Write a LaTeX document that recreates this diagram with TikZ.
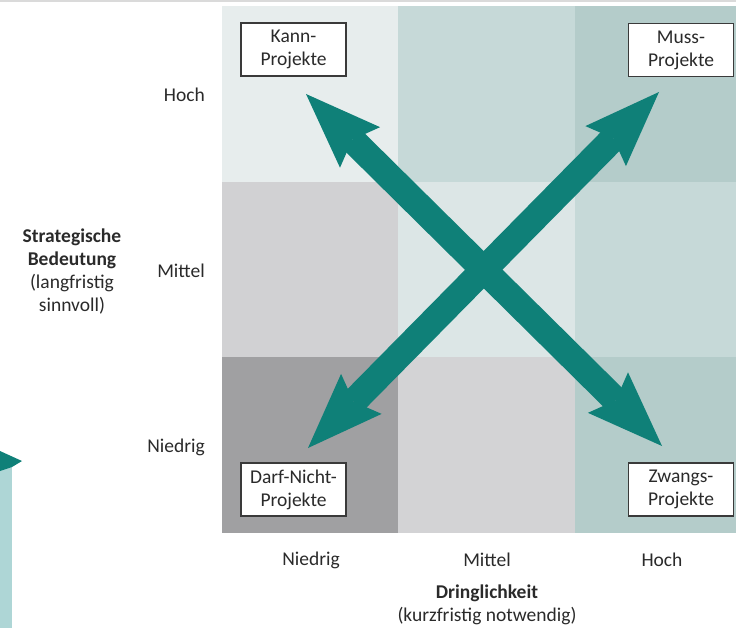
\documentclass[tikz,border=0pt]{standalone}
\usepackage{fontspec}
\setmainfont{Carlito}
\usetikzlibrary{arrows.meta}
\definecolor{cTL}{HTML}{E7EDED}
\definecolor{cTM}{HTML}{C6D9D8}
\definecolor{cTR}{HTML}{B4CCCA}
\definecolor{cML}{HTML}{D1D1D3}
\definecolor{cMM}{HTML}{DCE6E6}
\definecolor{cMR}{HTML}{C6D9D8}
\definecolor{cBL}{HTML}{A0A0A2}
\definecolor{cBM}{HTML}{D3D3D5}
\definecolor{cBR}{HTML}{B4CCCA}
\definecolor{teal}{HTML}{0F8078}
\definecolor{lightteal}{HTML}{AED6D6}
\definecolor{rule}{HTML}{DADADA}
\definecolor{boxline}{HTML}{3A3A3A}
\definecolor{txt}{HTML}{2A2A2A}
\begin{document}
\begin{tikzpicture}[x=1pt,y=-1pt,
  every node/.style={text=txt,font=\fontsize{19.5}{23}\selectfont},
  projbox/.style={draw=boxline,line width=1.3pt,fill=white,minimum width=105pt,
    minimum height=53pt,align=center,inner sep=0pt},
  axislabel/.style={align=center,inner sep=0pt},
  bigarrow/.style={draw=teal,line width=26.5pt,
    {Stealth[length=76pt,width=57pt,inset=11pt,line width=0pt,fill=teal]}-{Stealth[length=76pt,width=57pt,inset=11pt,line width=0pt,fill=teal]}}]
\useasboundingbox (0,0) rectangle (736,628);
% thin rule along the top edge
\fill[rule] (0,0) rectangle (736,2.5);
% matrix cells
\fill[cTL] (222,6) rectangle (398,182);
\fill[cTM] (398,6) rectangle (575,182);
\fill[cTR] (575,6) rectangle (751,182);
\fill[cML] (222,182) rectangle (398,357);
\fill[cMM] (398,182) rectangle (575,357);
\fill[cMR] (575,182) rectangle (751,357);
\fill[cBL] (222,357) rectangle (398,533);
\fill[cBM] (398,357) rectangle (575,533);
\fill[cBR] (575,357) rectangle (751,533);
% fragment of a teal marker at the lower left edge
\fill[lightteal] (0,466) rectangle (12,628);
\fill[teal] (0,451) -- (22,461) -- (12,467) -- (0,471) -- cycle;
% arrow end points
\coordinate (tl) at (306,94);
\coordinate (br) at (662,446);
\coordinate (tr) at (659,92);
\coordinate (bl) at (308,448);
\draw[bigarrow] (tl) -- (br);
\draw[bigarrow] (tr) -- (bl);
% project boxes
\node[projbox] (kann) at (293.5,49.5) {Kann-\\Projekte};
\node[projbox] (muss) at (681,50) {Muss-\\Projekte};
\node[projbox] (darf) at (293.5,489.5) {Darf-Nicht-\\Projekte};
\node[projbox] (zwang) at (681,489.5) {Zwangs-\\Projekte};
% vertical axis
\node[anchor=east,inner sep=0pt] (yhoch) at (205,95) {Hoch};
\node[anchor=east,inner sep=0pt] (ymittel) at (205,271) {Mittel};
\node[anchor=east,inner sep=0pt] (yniedrig) at (205,447) {Niedrig};
\node[axislabel] (ytitle) at (72,271.5) {\textbf{Strategische}\\\textbf{Bedeutung}\\(langfristig\\sinnvoll)};
% horizontal axis
\node[inner sep=0pt] (xniedrig) at (311,560) {Niedrig};
\node[inner sep=0pt] (xmittel) at (487,560) {Mittel};
\node[inner sep=0pt] (xhoch) at (662,560) {Hoch};
\node[axislabel] (xtitle) at (487,604.5) {\textbf{Dringlichkeit}\\(kurzfristig notwendig)};
\end{tikzpicture}
\end{document}
